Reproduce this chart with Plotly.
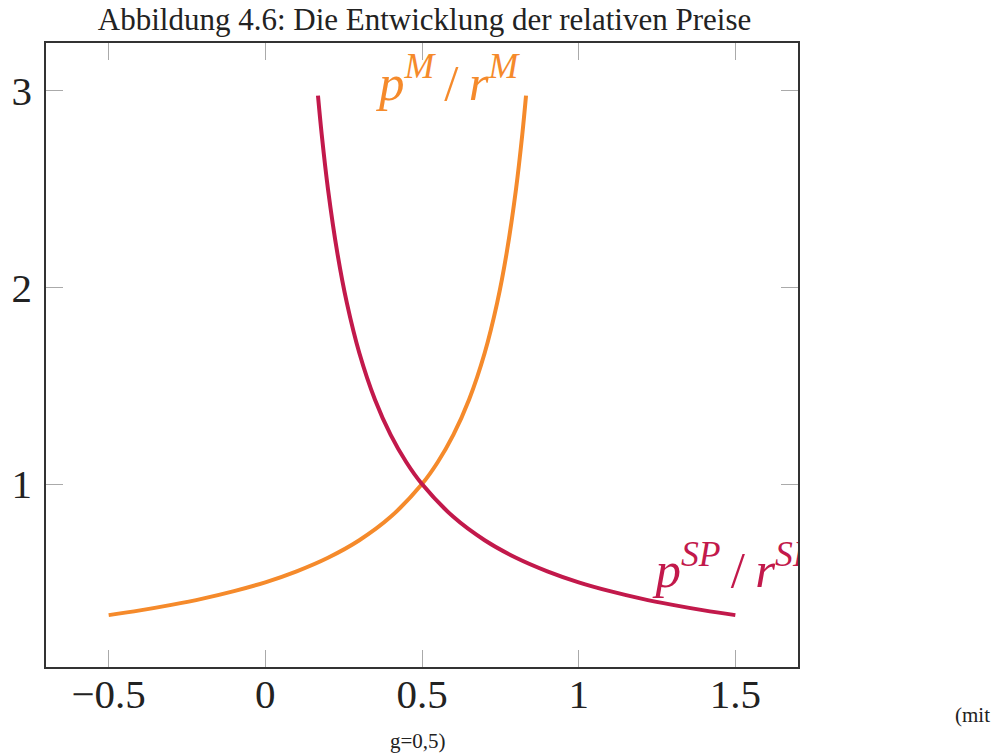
import plotly.graph_objects as go

# Values
pm_x = [-0.5, -0.4, -0.3, -0.2, -0.1, 0.0, 0.1, 0.2, 0.3, 0.4, 0.5, 0.55, 0.6, 0.65, 0.7, 0.74, 0.77, 0.8, 0.82, 0.832]
pm_y = [0.333, 0.357, 0.385, 0.417, 0.455, 0.5, 0.556, 0.625, 0.714, 0.833, 1.0, 1.111, 1.25, 1.429, 1.667, 1.923, 2.174, 2.5, 2.778, 2.976]

psp_x = [0.168, 0.18, 0.2, 0.23, 0.26, 0.3, 0.35, 0.4, 0.45, 0.5, 0.6, 0.7, 0.8, 0.9, 1.0, 1.1, 1.2, 1.3, 1.4, 1.5]
psp_y = [2.976, 2.778, 2.5, 2.174, 1.923, 1.667, 1.429, 1.25, 1.111, 1.0, 0.833, 0.714, 0.625, 0.556, 0.5, 0.455, 0.417, 0.385, 0.357, 0.333]

x_ticks = [-0.5, 0, 0.5, 1, 1.5]
x_tick_text = ["\u22120.5", "0", "0.5", "1", "1.5"]
y_ticks = [1, 2, 3]

title_text = "Abbildung 4.6: Die Entwicklung der relativen Preise"
label_m = "<i>p<sup>M</sup></i>\u2009/\u2009<i>r<sup>M</sup></i>"
label_sp = "<i>p<sup>SP</sup></i>\u2009/\u2009<i>r<sup>SP</sup></i>"

ORANGE = "#F58A2B"
CRIMSON = "#C2194B"
FONT = "Liberation Serif"
TXT = "#222222"

W, H = 1002, 756
OFF = 8  # default body margin of the page
# target plot box in screen pixels
SX0, SX1, SY0, SY1 = 46, 797.7, 43, 667
L = SX0 - OFF
T = SY0 - OFF
R = W - (SX1 - OFF)
B = H - (SY1 - OFF)

fig = go.Figure()
fig.add_trace(go.Scatter(x=pm_x, y=pm_y, mode="lines", line=dict(color=ORANGE, width=4, shape="spline"), showlegend=False))
fig.add_trace(go.Scatter(x=psp_x, y=psp_y, mode="lines", line=dict(color=CRIMSON, width=4, shape="spline"), showlegend=False))

# curve labels (clipped to the plot area like the original)
fig.add_trace(go.Scatter(x=[0.585], y=[3.02], mode="text", text=[label_m], textposition="middle center",
                         textfont=dict(family=FONT, size=51, color=ORANGE), cliponaxis=True, showlegend=False))
fig.add_trace(go.Scatter(x=[1.245], y=[0.54], mode="text", text=[label_sp], textposition="middle right",
                         textfont=dict(family=FONT, size=51, color=CRIMSON), cliponaxis=True, showlegend=False))

axis_common = dict(
    showgrid=False, zeroline=False, showline=True, linecolor="#333333", linewidth=1.5,
    mirror="ticks", ticks="inside", ticklen=17, tickwidth=1, tickcolor="#aaaaaa",
    tickfont=dict(family=FONT, size=41, color=TXT), automargin=False,
)

pw = W - L - R
ph = H - T - B


def px_to_paper(px, py):
    return (px - OFF - L) / pw, (H - B - (py - OFF)) / ph


fig.update_layout(
    width=W, height=H,
    margin=dict(l=L, r=R, t=T, b=B, autoexpand=False),
    paper_bgcolor="white", plot_bgcolor="white",
    xaxis=dict(range=[-0.7, 1.7], tickvals=x_ticks, ticktext=x_tick_text, ticklabelstandoff=-10, **axis_common),
    yaxis=dict(range=[0.069, 3.244], tickvals=y_ticks, ticklabelstandoff=4, **axis_common),
    title=dict(text=title_text, x=((93 + 756) / 2 - OFF) / W, xanchor="center", y=0.9995,
               yanchor="top", pad=dict(t=0, b=0), font=dict(family=FONT, size=31, color=TXT)),
)

ax, ay = px_to_paper(953, 715)
bx, by = px_to_paper(388, 741)
fig.add_annotation(text="(mit", x=ax, y=ay, xref="paper", yref="paper", showarrow=False, xanchor="left",
                   yanchor="middle", font=dict(family=FONT, size=21, color=TXT))
fig.add_annotation(text="g=0,5)", x=bx, y=by, xref="paper", yref="paper", showarrow=False, xanchor="left",
                   yanchor="middle", font=dict(family=FONT, size=21, color=TXT))

fig.write_html("out.html")
